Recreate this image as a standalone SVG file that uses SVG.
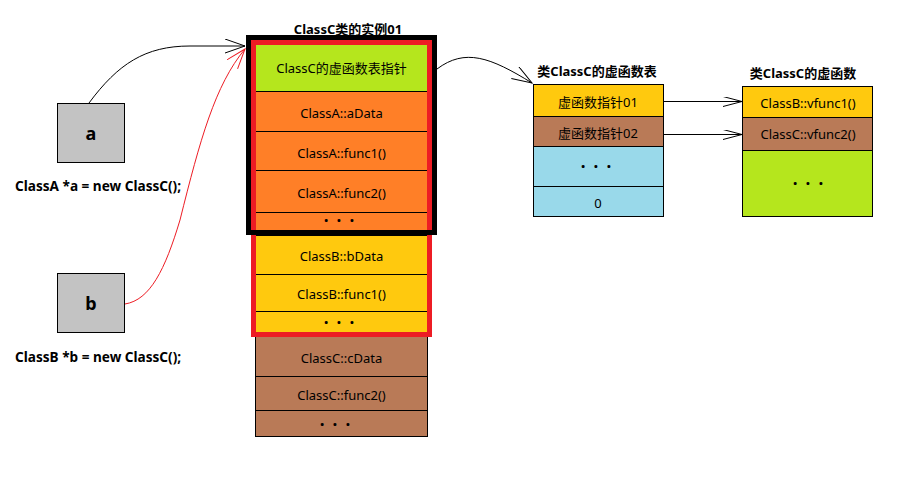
<svg xmlns="http://www.w3.org/2000/svg" width="910" height="494" viewBox="0 0 910 494">
<style>
text{font-family:"Noto Sans","Noto Sans CJK SC",sans-serif;font-size:13px;fill:#000;text-anchor:middle;dominant-baseline:central}
.b{font-weight:bold}
.l{text-anchor:start;font-size:13.6px}
.cell{stroke:#000;stroke-width:1}
.dots{font-size:17px;font-weight:bold;letter-spacing:8px}
.g{fill:#b5e61d}.o{fill:#ff7f27}.y{fill:#ffc90e}.br{fill:#b97a57}.lb{fill:#99d9ea}.gr{fill:#c3c3c3}
.c{fill:none;stroke-width:1}
</style>
<defs>
<marker id="ah" markerUnits="userSpaceOnUse" markerWidth="24" markerHeight="18" refX="20" refY="7" orient="auto"><path d="M0,0 L20,7 L0,14" fill="none" stroke="#000" stroke-width="1"/></marker>
<marker id="ahr" markerUnits="userSpaceOnUse" markerWidth="24" markerHeight="18" refX="20" refY="7" orient="auto"><path d="M0,0 L20,7 L0,14" fill="none" stroke="#ed1c24" stroke-width="1"/></marker>
<marker id="ahs" markerUnits="userSpaceOnUse" markerWidth="24" markerHeight="14" refX="19" refY="5" orient="auto"><path d="M0,0 L19,5 L0,10" fill="none" stroke="#000" stroke-width="1"/></marker>
</defs>
<rect width="910" height="494" fill="#fff"/>

<g id="pointer-a">
<rect class="gr" x="57.5" y="103.5" width="67" height="59" stroke="#000"/>
<text class="b" x="91" y="133" style="font-size:18px">a</text>
<text class="b l" x="15" y="185">ClassA *a = new ClassC();</text>
</g>
<g id="pointer-b">
<rect class="gr" x="57.5" y="273.5" width="67" height="59" stroke="#000"/>
<text class="b" x="91" y="303" style="font-size:18px">b</text>
<text class="b l" x="15" y="356">ClassB *b = new ClassC();</text>
</g>

<g id="instance">
<text class="b" x="348" y="29">ClassC类的实例01</text>
<rect class="cell g" x="255.5" y="40.5" width="172" height="51"/>
<text x="341.5" y="68">ClassC的虚函数表指针</text>
<rect class="cell o" x="255.5" y="91.5" width="172" height="40"/>
<text x="341.5" y="113">ClassA::aData</text>
<rect class="cell o" x="255.5" y="131.5" width="172" height="39"/>
<text x="341.5" y="153">ClassA::func1()</text>
<rect class="cell o" x="255.5" y="170.5" width="172" height="42"/>
<text x="341.5" y="193">ClassA::func2()</text>
<rect class="cell o" x="255.5" y="212.5" width="172" height="23"/>
<text class="dots" x="343" y="220">···</text>
<rect class="cell y" x="255.5" y="235.5" width="172" height="39"/>
<text x="341.5" y="256">ClassB::bData</text>
<rect class="cell y" x="255.5" y="274.5" width="172" height="37"/>
<text x="341.5" y="294">ClassB::func1()</text>
<rect class="cell y" x="255.5" y="311.5" width="172" height="24"/>
<text class="dots" x="343" y="322">···</text>
<rect class="cell br" x="255.5" y="335.5" width="172" height="41"/>
<text x="341.5" y="358">ClassC::cData</text>
<rect class="cell br" x="255.5" y="376.5" width="172" height="34"/>
<text x="341.5" y="395">ClassC::func2()</text>
<rect class="cell br" x="255.5" y="410.5" width="172" height="26"/>
<text class="dots" x="339" y="424">···</text>
<rect x="253.5" y="42.5" width="176" height="292" fill="none" stroke="#ed1c24" stroke-width="5"/>
<rect x="248.5" y="37.5" width="186" height="195" fill="none" stroke="#000" stroke-width="5"/>
</g>

<g id="vtable">
<text class="b" x="597" y="71">类ClassC的虚函数表</text>
<rect class="cell y" x="533.5" y="84.5" width="130" height="32"/>
<text x="598" y="102">虚函数指针01</text>
<rect class="cell br" x="533.5" y="116.5" width="130" height="30"/>
<text x="598" y="133">虚函数指针02</text>
<rect class="cell lb" x="533.5" y="146.5" width="130" height="40"/>
<text class="dots" x="600" y="166">···</text>
<rect class="cell lb" x="533.5" y="186.5" width="130" height="30"/>
<text x="598" y="203">0</text>
</g>

<g id="vfuncs">
<text class="b" x="803" y="73">类ClassC的虚函数</text>
<rect class="cell y" x="742.5" y="86.5" width="130" height="31"/>
<text x="808" y="103">ClassB::vfunc1()</text>
<rect class="cell br" x="742.5" y="117.5" width="130" height="33"/>
<text x="808" y="134">ClassC::vfunc2()</text>
<rect class="cell g" x="742.5" y="150.5" width="130" height="66"/>
<text class="dots" x="812" y="183">···</text>
</g>

<g id="connectors">
<path class="c" stroke="#000" d="M89,103 C118,64 145,46 190,46 L245,46" marker-end="url(#ah)"/>
<path class="c" stroke="#ed1c24" d="M125,304 C150,300 165,270 180,220 C200,140 215,85 245,49" marker-end="url(#ahr)"/>
<path class="c" stroke="#000" d="M437,69 C465,48 490,57 532,83" marker-end="url(#ah)"/>
<path class="c" stroke="#000" d="M663,101.5 L742,101.5" marker-end="url(#ahs)"/>
<path class="c" stroke="#000" d="M663,134.5 L742,134.5" marker-end="url(#ahs)"/>
</g>
</svg>
